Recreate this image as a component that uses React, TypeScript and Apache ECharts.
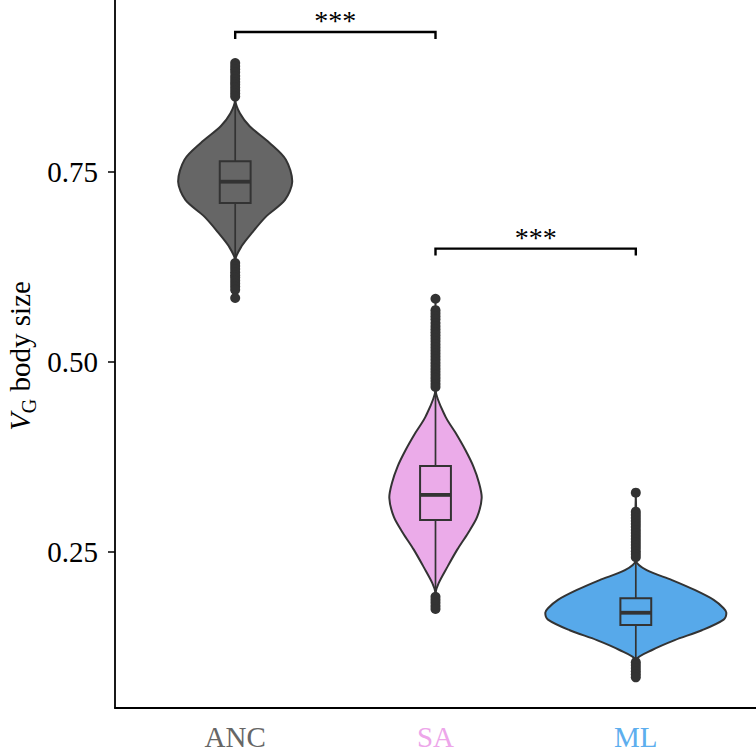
import React, { useEffect, useRef } from "react";
import * as echarts from "echarts";

const CATEGORIES = ["ANC", "SA", "ML"];
const LABEL_COLORS = ["#666666", "#EDA6EA", "#5DAEEE"];
const FILL_COLORS = ["#666666", "#EBABE9", "#57A9EA"];

// violin profiles: [value, relative density], from top to bottom
const ANC_VIOLIN = [
  [0.893, 0], [0.845, 0], [0.827, 0.052], [0.81, 0.16], [0.788, 0.38], [0.766, 0.56],
  [0.737, 0.63], [0.713, 0.55], [0.691, 0.34], [0.669, 0.18], [0.652, 0.07], [0.634, 0], [0.584, 0],
];
const SA_VIOLIN = [
  [0.583, 0], [0.463, 0], [0.428, 0.11], [0.407, 0.22], [0.384, 0.33], [0.362, 0.42],
  [0.341, 0.48], [0.321, 0.51], [0.296, 0.46], [0.275, 0.36], [0.253, 0.24], [0.23, 0.13],
  [0.209, 0.035], [0.196, 0], [0.174, 0],
];
const ML_VIOLIN = [
  [0.328, 0], [0.239, 0], [0.226, 0.12], [0.213, 0.4], [0.2, 0.65], [0.187, 0.86],
  [0.176, 0.97], [0.17, 1.0], [0.161, 0.97], [0.147, 0.73], [0.134, 0.43], [0.121, 0.18],
  [0.108, 0], [0.084, 0],
];

// box stats: [lower whisker, q1, median, q3, upper whisker]
const ANC_BOX = [0.634, 0.709, 0.737, 0.764, 0.845];
const SA_BOX = [0.196, 0.292, 0.325, 0.363, 0.463];
const ML_BOX = [0.108, 0.154, 0.17, 0.189, 0.239];

const ANC_OUTLIERS = [
  0.893, 0.889, 0.885, 0.881, 0.876, 0.872, 0.868, 0.865, 0.861, 0.857, 0.853, 0.849,
  0.63, 0.626, 0.622, 0.618, 0.614, 0.611, 0.607, 0.603, 0.599, 0.595, 0.584,
];
const SA_OUTLIERS = [
  0.583, 0.568, 0.564, 0.56, 0.556, 0.551, 0.547, 0.543, 0.539, 0.535, 0.531, 0.527, 0.523,
  0.519, 0.515, 0.511, 0.507, 0.503, 0.499, 0.495, 0.491, 0.487, 0.483, 0.479, 0.475, 0.471,
  0.467, 0.191, 0.187, 0.183, 0.179, 0.175,
];
const ML_OUTLIERS = [
  0.328, 0.303, 0.299, 0.295, 0.291, 0.287, 0.283, 0.279, 0.275, 0.271, 0.267, 0.263, 0.259,
  0.255, 0.251, 0.247, 0.243, 0.105, 0.101, 0.097, 0.093, 0.089, 0.085,
];

// significance comparisons: [from category, to category, bracket value, label]
const COMPARISONS: [number, number, number, string][] = [
  [1, 2, 0.934, "***"],
  [2, 3, 0.649, "***"],
];

const Y_TICKS = [0.25, 0.5, 0.75];

const PROFILES = [ANC_VIOLIN, SA_VIOLIN, ML_VIOLIN];
const BOXES = [ANC_BOX, SA_BOX, ML_BOX];
const OUTLIERS = [ANC_OUTLIERS, SA_OUTLIERS, ML_OUTLIERS];

const FONT = "'Liberation Serif', 'Times New Roman', serif";
const VIOLIN_HALF = 0.452;
const BOX_HALF = 0.077;

export default function App() {
  const ref = useRef<HTMLDivElement>(null);
  useEffect(() => {
    if (!ref.current) return;
    const chart = echarts.init(ref.current, null, { renderer: "svg" });
    const option: any = {
      animation: false,
      backgroundColor: "#ffffff",
      grid: { left: 115, right: 0, top: 0, bottom: 46 },
      xAxis: {
        type: "value",
        min: 0.4,
        max: 3.6,
        splitLine: { show: false },
        axisLine: { show: true, lineStyle: { color: "#000", width: 1.8 } },
        axisTick: { show: false },
        axisLabel: {
          customValues: [1, 2, 3],
          margin: 14,
          fontFamily: FONT,
          fontSize: 29,
          formatter: (v: number) => `{c${Math.round(v)}|${CATEGORIES[Math.round(v) - 1]}}`,
          rich: {
            c1: { color: LABEL_COLORS[0], fontFamily: FONT, fontSize: 29 },
            c2: { color: LABEL_COLORS[1], fontFamily: FONT, fontSize: 29 },
            c3: { color: LABEL_COLORS[2], fontFamily: FONT, fontSize: 29 },
          },
        },
      },
      yAxis: {
        type: "value",
        min: 0.0447,
        max: 0.976,
        splitLine: { show: false },
        axisLine: { show: true, lineStyle: { color: "#000", width: 1.8 } },
        axisTick: { show: true, customValues: Y_TICKS, length: 7, lineStyle: { color: "#000", width: 1.5 } },
        axisLabel: {
          customValues: Y_TICKS,
          margin: 17,
          color: "#000",
          fontFamily: FONT,
          fontSize: 29,
          formatter: (v: number) => v.toFixed(2),
        },
      },
      graphic: [
        {
          type: "text",
          x: 22,
          y: 356,
          rotation: Math.PI / 2,
          style: {
            text: "{v|V}{g|G}{t| body size}",
            align: "center",
            verticalAlign: "middle",
            rich: {
              v: { fontFamily: FONT, fontSize: 29, fontStyle: "italic", fill: "#000", verticalAlign: "top" },
              g: { fontFamily: FONT, fontSize: 20, fill: "#000", verticalAlign: "top", padding: [13, 0, 0, 0] },
              t: { fontFamily: FONT, fontSize: 29, fill: "#000", verticalAlign: "top" },
            },
          },
        },
      ],
      series: [
        {
          type: "custom",
          coordinateSystem: "cartesian2d",
          clip: false,
          data: CATEGORIES.map((_, i) => [i + 1, BOXES[i][2]]),
          renderItem: (params: any, api: any) => {
            const i = params.dataIndex;
            const cx = i + 1;
            const prof = PROFILES[i];
            const right = prof.map(([v, d]) => api.coord([cx + d * VIOLIN_HALF, v]));
            const left = prof
              .slice()
              .reverse()
              .map(([v, d]) => api.coord([cx - d * VIOLIN_HALF, v]));
            const box = BOXES[i];
            const pLo = api.coord([cx, box[0]]);
            const pHi = api.coord([cx, box[4]]);
            const bTL = api.coord([cx - BOX_HALF, box[3]]);
            const bBR = api.coord([cx + BOX_HALF, box[1]]);
            const mL = api.coord([cx - BOX_HALF, box[2]]);
            const mR = api.coord([cx + BOX_HALF, box[2]]);
            const children: any[] = [
              {
                type: "polygon",
                shape: { points: right.concat(left), smooth: 0.3 },
                style: { fill: FILL_COLORS[i], stroke: "#333333", lineWidth: 2 },
              },
              {
                type: "line",
                shape: { x1: pLo[0], y1: pLo[1], x2: pHi[0], y2: pHi[1] },
                style: { stroke: "#333333", lineWidth: 1.7 },
              },
              {
                type: "rect",
                shape: { x: bTL[0], y: bTL[1], width: bBR[0] - bTL[0], height: bBR[1] - bTL[1] },
                style: { fill: FILL_COLORS[i], stroke: "#333333", lineWidth: 2 },
              },
              {
                type: "line",
                shape: { x1: mL[0], y1: mL[1], x2: mR[0], y2: mR[1] },
                style: { stroke: "#333333", lineWidth: 3.8 },
              },
            ];
            OUTLIERS[i].forEach((v) => {
              const p = api.coord([cx, v]);
              children.push({
                type: "circle",
                shape: { cx: p[0], cy: p[1], r: 5 },
                style: { fill: "#333333" },
              });
            });
            return { type: "group", children };
          },
        },
        {
          type: "custom",
          coordinateSystem: "cartesian2d",
          clip: false,
          data: COMPARISONS.map((c) => [c[0], c[2]]),
          renderItem: (params: any, api: any) => {
            const [a, b, v, label] = COMPARISONS[params.dataIndex];
            const p1 = api.coord([a, v]);
            const p2 = api.coord([b, v]);
            const drop = 7;
            return {
              type: "group",
              children: [
                {
                  type: "polyline",
                  shape: {
                    points: [
                      [p1[0], p1[1] + drop],
                      [p1[0], p1[1]],
                      [p2[0], p2[1]],
                      [p2[0], p2[1] + drop],
                    ],
                  },
                  style: { stroke: "#000", lineWidth: 2.4, fill: null },
                },
                {
                  type: "text",
                  x: (p1[0] + p2[0]) / 2,
                  y: p1[1] - 11,
                  style: {
                    text: label,
                    fontFamily: FONT,
                    fontSize: 28,
                    fill: "#000",
                    align: "center",
                    verticalAlign: "middle",
                  },
                },
              ],
            };
          },
        },
      ],
    };
    chart.setOption(option);
    return () => chart.dispose();
  }, []);
  return (
    <div
      ref={ref}
      style={{ position: "fixed", left: 0, top: 0, width: 756, height: 754, background: "#fff" }}
    />
  );
}
